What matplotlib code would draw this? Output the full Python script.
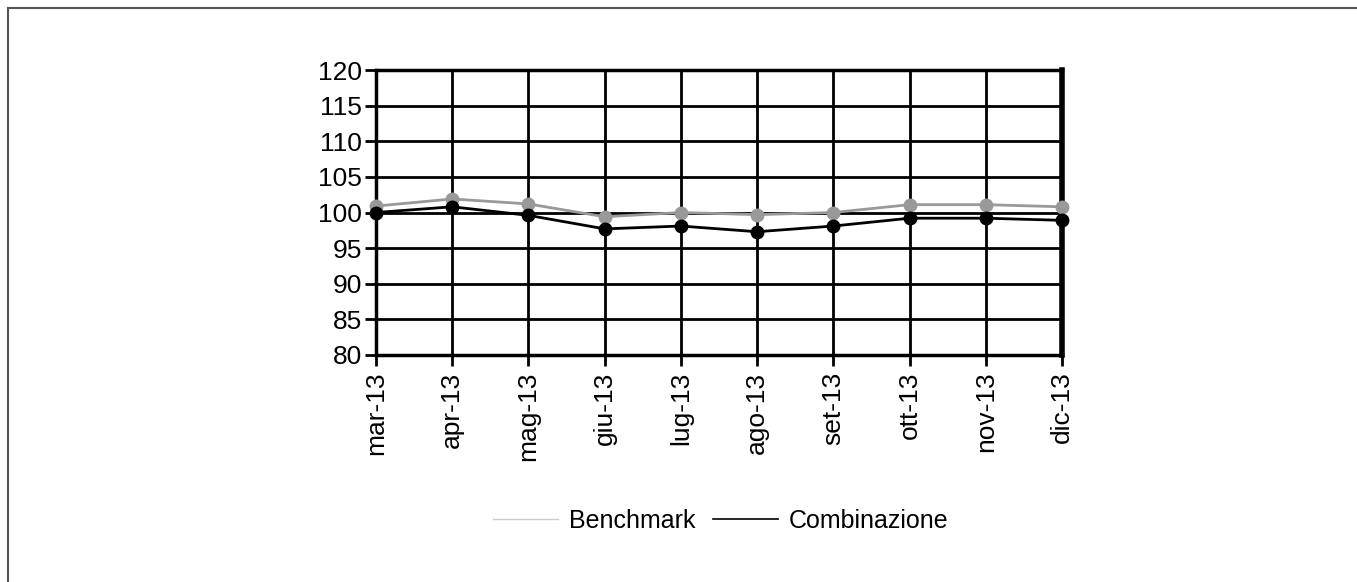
import matplotlib
matplotlib.use("Agg")
import matplotlib.pyplot as plt
from matplotlib.lines import Line2D

plt.rcParams['font.family'] = ['Liberation Sans', 'DejaVu Sans']

# data
months = ['mar-13', 'apr-13', 'mag-13', 'giu-13', 'lug-13',
          'ago-13', 'set-13', 'ott-13', 'nov-13', 'dic-13']
benchmark = [100.9, 101.9, 101.2, 99.4, 100.0, 99.7, 100.0, 101.1, 101.1, 100.8]
combinazione = [100.0, 100.8, 99.6, 97.7, 98.1, 97.3, 98.1, 99.2, 99.2, 98.9]
y_ticks = [80, 85, 90, 95, 100, 105, 110, 115, 120]

W, H = 1357, 582
fig = plt.figure(figsize=(W / 100, H / 100), dpi=100)
ax = fig.add_axes([376 / W, 1 - 355 / H, (1062 - 376) / W, (355 - 70) / H])

x = list(range(len(months)))
ax.plot(x, benchmark, color='#999999', lw=2.0, marker='o', ms=9,
        clip_on=False, zorder=4)
ax.plot(x, combinazione, color='black', lw=2.0, marker='o', ms=9,
        clip_on=False, zorder=5)

ax.set_xlim(0, len(months) - 1)
ax.set_ylim(80, 120)
ax.set_yticks(y_ticks)
ax.set_xticks(x)
ax.set_xticklabels(months, rotation=90)
ax.tick_params(axis='both', labelsize=19, width=2, length=8, color='black')
ax.tick_params(axis='y', pad=2)
ax.tick_params(axis='x', pad=4)
ax.grid(True, color='black', lw=2)
for s in ax.spines.values():
    s.set_linewidth(2.5)
    s.set_color('black')
ax.spines['right'].set_linewidth(4)

# legend
handles = [Line2D([], [], color='#cccccc', lw=1.0),
           Line2D([], [], color='black', lw=1.2)]
fig.legend(handles, ['Benchmark', 'Combinazione'], ncol=2, frameon=False,
           loc='center', bbox_to_anchor=(0.531, 1 - 521 / H), fontsize=18,
           handlelength=2.6, handletextpad=0.45, columnspacing=0.7)

# outer frame (left and top edges visible)
fig.add_artist(Line2D([8 / W, 8 / W], [0, 1 - 8 / H], transform=fig.transFigure,
                      color='#555555', lw=1.5))
fig.add_artist(Line2D([8 / W, 1], [1 - 8 / H, 1 - 8 / H], transform=fig.transFigure,
                      color='#555555', lw=1.5))

fig.savefig('out.png', dpi=100)
